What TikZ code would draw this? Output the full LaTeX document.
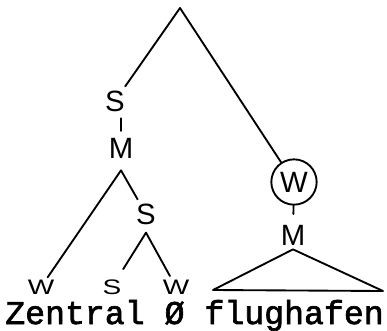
\documentclass[tikz,border=0pt]{standalone}
\usepackage{fontspec}
\usepackage{graphicx}
\usetikzlibrary{positioning,calc}
\newfontfamily\handfont{Liberation Sans}
\newfontfamily\typefont[FakeBold=2]{Liberation Mono}
\newcommand{\squat}[1]{\scalebox{1}[0.75]{#1}}
\tikzset{
  lbl/.style={font=\handfont\fontsize{22}{24}\selectfont,inner sep=3pt},
  leaf/.style={font=\handfont\fontsize{21}{23}\selectfont,inner sep=0pt},
  branch/.style={line width=1.4pt,line cap=round,line join=round}
}

\begin{document}
\begin{tikzpicture}[x=0.75pt,y=-0.75pt]
  \useasboundingbox (0,0) rectangle (387,330);
  % tree labels
  \coordinate (root) at (180,8);
  \node[lbl] (s1) at (115,101) {S};
  \node[lbl] (m1) at (121,148) {M};
  \coordinate[below=6pt of m1] (m1v);
  \node[leaf] (w1) at (41,287) {\squat{W}};
  \node[lbl] (s2) at (146,214) {S};
  \coordinate[below=3pt of s2] (s2v);
  \node[leaf] (s3) at (112,287) {\squat{S}};
  \node[leaf] (w2) at (176,287) {\squat{W}};
  \node[lbl,draw,circle,line width=1.4pt,minimum size=34pt,inner sep=0pt] (wc) at (294,182) {W};
  \node[lbl] (m2) at (293,235) {M};
  \coordinate (m2v) at (m2.south);
  \coordinate (tl) at (213,290);
  \coordinate (tr) at (383,291);
  % branches
  \draw[branch] (s1) -- (root) -- (wc);
  \draw[branch,shorten >=2pt,shorten <=2pt] (m1.north |- s1.south) -- (m1.north);
  \draw[branch,shorten <=2pt] (w1) -- (m1v) -- (s2);
  \draw[branch,shorten <=9pt,shorten >=3pt] (s3) -- (s2v) -- (w2);
  \draw[branch,shorten >=5pt] (wc) -- (m2);
  \draw[branch] (m2v) -- (tl) -- (tr) -- cycle;
  % words
  \node[font=\typefont\fontsize{24.9}{28}\selectfont,inner sep=0pt,anchor=base west] (words) at (5,324) {Zentral Ø flughafen};
\end{tikzpicture}
\end{document}
